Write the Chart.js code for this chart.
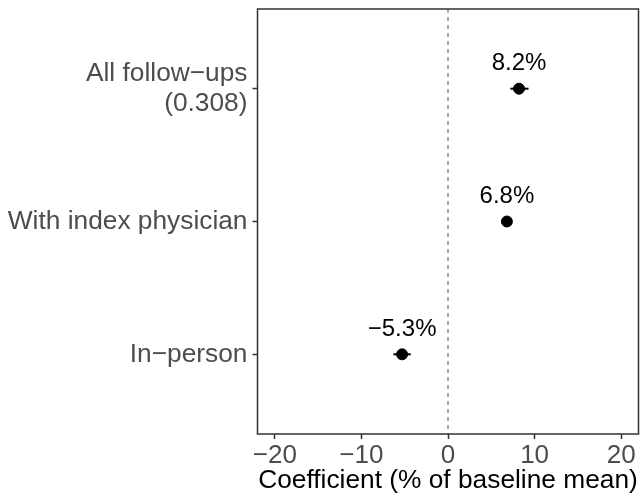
<!DOCTYPE html>
<html>
<head>
<meta charset="utf-8">
<style>
  html, body { margin: 0; padding: 0; background: #fff; }
  #wrap { width: 641px; height: 497px; }
</style>
<script src="https://cdn.jsdelivr.net/npm/chart.js"></script>
</head>
<body>
<div id="wrap"><canvas id="coefChart" width="641" height="497"></canvas></div>
<script>
/* ---------- DATA ---------- */
const categories = [["All follow\u2212ups", "(0.308)"], "With index physician", "In\u2212person"];
const estimates = [8.2, 6.8, -5.3];
const ciLow = [7.2, 6.3, -6.3];
const ciHigh = [9.3, 7.3, -4.3];
const pointLabels = ["8.2%", "6.8%", "\u22125.3%"];
const xTicks = [-20, -10, 0, 10, 20];

const FONT = "'Liberation Sans', Arial, sans-serif";

/* ---------- EXTRAS: panel border, zero line, error bars, labels ---------- */
const extras = {
  id: "extras",
  beforeDatasetsDraw(chart) {
    const { ctx, chartArea: a, scales: { x, y } } = chart;
    ctx.save();
    // dashed zero line
    const x0 = x.getPixelForValue(0);
    ctx.strokeStyle = "#555";
    ctx.lineWidth = 1;
    ctx.setLineDash([4, 4]);
    ctx.beginPath();
    ctx.moveTo(x0, a.top);
    ctx.lineTo(x0, a.bottom);
    ctx.stroke();
    ctx.setLineDash([]);
    // error bars
    ctx.strokeStyle = "#000";
    ctx.lineWidth = 2;
    estimates.forEach((v, i) => {
      const py = y.getPixelForValue(i + 1);
      ctx.beginPath();
      ctx.moveTo(x.getPixelForValue(ciLow[i]), py);
      ctx.lineTo(x.getPixelForValue(ciHigh[i]), py);
      ctx.stroke();
    });
    ctx.restore();
  },
  afterDatasetsDraw(chart) {
    const { ctx, chartArea: a, scales: { x, y } } = chart;
    ctx.save();
    // value labels
    ctx.fillStyle = "#000";
    ctx.font = "24px " + FONT;
    ctx.textAlign = "center";
    ctx.textBaseline = "middle";
    estimates.forEach((v, i) => {
      ctx.fillText(pointLabels[i], x.getPixelForValue(v), y.getPixelForValue(i + 1) - 25);
    });
    // panel border
    ctx.strokeStyle = "#333";
    ctx.lineWidth = 1.5;
    ctx.strokeRect(a.left, a.top, a.right - a.left, a.bottom - a.top);
    ctx.restore();
  }
};

/* ---------- CHART ---------- */
new Chart(document.getElementById("coefChart"), {
  type: "scatter",
  data: {
    datasets: [{
      data: estimates.map((v, i) => ({ x: v, y: i + 1 })),
      backgroundColor: "#000",
      borderColor: "#000",
      pointRadius: 5.5,
      pointHoverRadius: 5.5
    }]
  },
  options: {
    responsive: false,
    animation: false,
    layout: { autoPadding: false, padding: { top: 9, right: 2.5, left: 0, bottom: 0 } },
    plugins: { legend: { display: false }, tooltip: { enabled: false } },
    scales: {
      x: {
        type: "linear",
        min: -22,
        max: 22,
        afterBuildTicks: s => { s.ticks = xTicks.map(v => ({ value: v })); },
        afterFit: s => { s.height = 63; s.paddingLeft = 0; s.paddingRight = 0; },
        border: { display: false },
        grid: { drawOnChartArea: false, drawTicks: true, tickLength: 5, tickColor: "#333", tickWidth: 1.5 },
        ticks: {
          color: "#4D4D4D",
          font: { family: FONT, size: 26 },
          padding: 1,
          maxRotation: 0,
          callback: v => String(v).replace("-", "\u2212")
        },
        title: {
          display: true,
          text: "Coefficient (% of baseline mean)",
          color: "#000",
          font: { family: FONT, size: 26.3 },
          padding: { top: 0, bottom: 0 }
        }
      },
      y: {
        type: "linear",
        reverse: true,
        min: 0.4,
        max: 3.6,
        afterBuildTicks: s => { s.ticks = categories.map((c, i) => ({ value: i + 1 })); },
        afterFit: s => { s.width = 257.5; s.paddingTop = 0; s.paddingBottom = 0; },
        border: { display: false },
        grid: { drawOnChartArea: false, drawTicks: true, tickLength: 5, tickColor: "#333", tickWidth: 1.5 },
        ticks: {
          color: "#4D4D4D",
          font: { family: FONT, size: 26.3, lineHeight: 1.15 },
          padding: 5,
          callback: v => categories[v - 1]
        }
      }
    }
  },
  plugins: [extras]
});
</script>
</body>
</html>
